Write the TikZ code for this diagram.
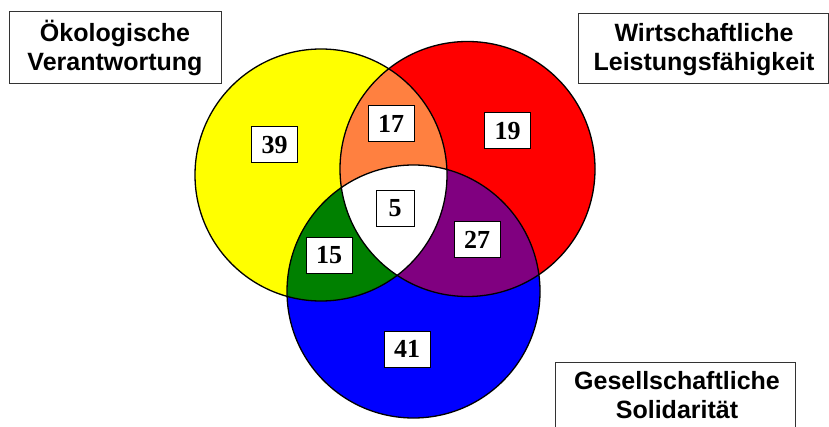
\documentclass[tikz,border=0pt]{standalone}
\usepackage{fontspec}
\setmainfont{Liberation Serif}
\newfontfamily\labelfont{Liberation Sans}
\definecolor{vyellow}{RGB}{255,255,0}
\definecolor{vred}{RGB}{255,0,0}
\definecolor{vblue}{RGB}{0,0,255}
\definecolor{vorange}{RGB}{255,128,64}
\definecolor{vgreen}{RGB}{0,128,0}
\definecolor{vpurple}{RGB}{128,0,128}
\begin{document}
\begin{tikzpicture}[x=1pt,y=-1pt,
  numbox/.style={draw=black,fill=white,line width=1pt,inner sep=0pt,minimum width=46pt,minimum height=36pt,
    font=\fontsize{26}{30}\selectfont\bfseries},
  catframe/.style={draw=black!80,fill=white,line width=0.8pt,inner sep=0pt},
  cattext/.style={inner sep=0pt,align=center,
    font=\labelfont\fontsize{25}{29}\selectfont\bfseries},
  outline/.style={draw=black,line width=1.3pt}]
\useasboundingbox (0,0) rectangle (829,427);
\clip (0,0) rectangle (829,427);
\def\cY{(321,175) circle[radius=126]}
\def\cR{(467.5,169) circle[radius=127.5]}
\def\cB{(413.5,291.5) circle[radius=126.5]}
% base fills
\fill[vyellow] \cY;
\fill[vred] \cR;
\fill[vblue] \cB;
% pairwise intersections
\begin{scope}\clip \cY; \fill[vorange] \cR; \end{scope}
\begin{scope}\clip \cY; \fill[vgreen] \cB; \end{scope}
\begin{scope}\clip \cR; \fill[vpurple] \cB; \end{scope}
\begin{scope}\clip \cY; \clip \cR; \fill[white] \cB; \end{scope}
% outlines
\draw[outline] \cY;
\draw[outline] \cR;
\draw[outline] \cB;
% numbers
\node[numbox] (n39) at (274.5,145) {39};
\node[numbox] (n17) at (391,123.5) {17};
\node[numbox] (n19) at (507.5,131) {19};
\node[numbox,minimum width=38pt] (n5) at (395,208.5) {5};
\node[numbox] (n27) at (477,240) {27};
\node[numbox] (n15) at (329,255.5) {15};
\node[numbox] (n41) at (407,349) {41};
% category labels
\node[catframe,minimum width=212pt,minimum height=72pt] (oekbox) at (115,47) {};
\node[cattext] (oek) at (115,48) {Ökologische\\Verantwortung};
\node[catframe,minimum width=250pt,minimum height=70pt] (wirtbox) at (703,48) {};
\node[cattext] (wirt) at (704,50) {Wirtschaftliche\\Leistungsfähigkeit};
\node[catframe,minimum width=240pt,minimum height=90pt,anchor=north] (gesbox) at (675,362) {};
\node[cattext] (ges) at (677,395) {Gesellschaftliche\\Solidarität};
\end{tikzpicture}
\end{document}
